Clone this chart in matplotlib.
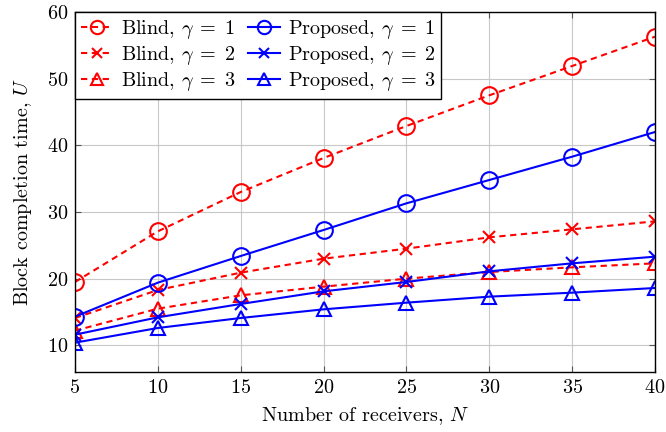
import matplotlib
matplotlib.use("Agg")
import matplotlib.pyplot as plt

plt.rcParams['font.family'] = 'serif'
plt.rcParams['font.serif'] = ['cmr10']
plt.rcParams['mathtext.fontset'] = 'cm'
plt.rcParams['axes.formatter.use_mathtext'] = True

receivers = [5, 10, 15, 20, 25, 30, 35, 40]

blind_g1 = [19.5, 27.1, 33.0, 38.1, 42.9, 47.5, 51.9, 56.3]
blind_g2 = [14.1, 18.3, 20.9, 23.0, 24.5, 26.2, 27.4, 28.6]
blind_g3 = [12.2, 15.5, 17.5, 18.8, 20.0, 21.0, 21.7, 22.3]
prop_g1 = [14.3, 19.4, 23.4, 27.3, 31.3, 34.8, 38.3, 42.0]
prop_g2 = [11.6, 14.2, 16.2, 18.1, 19.5, 21.1, 22.3, 23.3]
prop_g3 = [10.4, 12.6, 14.1, 15.4, 16.4, 17.3, 17.9, 18.6]

fig = plt.figure(figsize=(6.66, 4.32), dpi=100)
ax = fig.add_axes([0.1126, 0.1389, 0.8709, 0.8333])

red = '#ff0000'
blue = '#0000ff'
dash = (0, (3, 2.2))
common = dict(linewidth=1.5, markeredgewidth=1.5, markerfacecolor='none')
sizes = {'o': 12, 'x': 9, '^': 10.5}

ax.plot(receivers, blind_g1, color=red, linestyle=dash, marker='o',
        markersize=sizes['o'], label=r'Blind, $\gamma\;=\;1$', **common)
ax.plot(receivers, blind_g2, color=red, linestyle=dash, marker='x',
        markersize=sizes['x'], label=r'Blind, $\gamma\;=\;2$', **common)
ax.plot(receivers, blind_g3, color=red, linestyle=dash, marker='^',
        markersize=sizes['^'], label=r'Blind, $\gamma\;=\;3$', **common)
ax.plot(receivers, prop_g1, color=blue, marker='o',
        markersize=sizes['o'], label=r'Proposed, $\gamma\;=\;1$', **common)
ax.plot(receivers, prop_g2, color=blue, marker='x',
        markersize=sizes['x'], label=r'Proposed, $\gamma\;=\;2$', **common)
ax.plot(receivers, prop_g3, color=blue, marker='^',
        markersize=sizes['^'], label=r'Proposed, $\gamma\;=\;3$', **common)

ax.set_xlim(5, 40)
ax.set_ylim(6, 60)
ax.set_xticks(receivers)
ax.set_yticks([10, 20, 30, 40, 50, 60])
ax.grid(True, color='#c8c8c8', linewidth=0.8)
ax.set_axisbelow(True)
ax.tick_params(direction='in', top=True, right=True, labelsize=14.5, length=4,
               color='#555555', pad=5)
for s in ax.spines.values():
    s.set_linewidth(1.0)

ax.set_xlabel(r'Number of receivers, $N$', fontsize=14.5, labelpad=6)
ax.set_ylabel(r'Block completion time, $U$', fontsize=14.5, labelpad=9)

leg = ax.legend(loc='upper left', ncol=2, fontsize=14.5, frameon=True,
                fancybox=False, edgecolor='black', framealpha=1,
                handlelength=1.6, handletextpad=0.4, columnspacing=0.6,
                labelspacing=0.15, borderpad=0.3, borderaxespad=0,
                markerscale=0.8)
leg.get_frame().set_linewidth(1.0)

fig.savefig('out.png', dpi=100)
